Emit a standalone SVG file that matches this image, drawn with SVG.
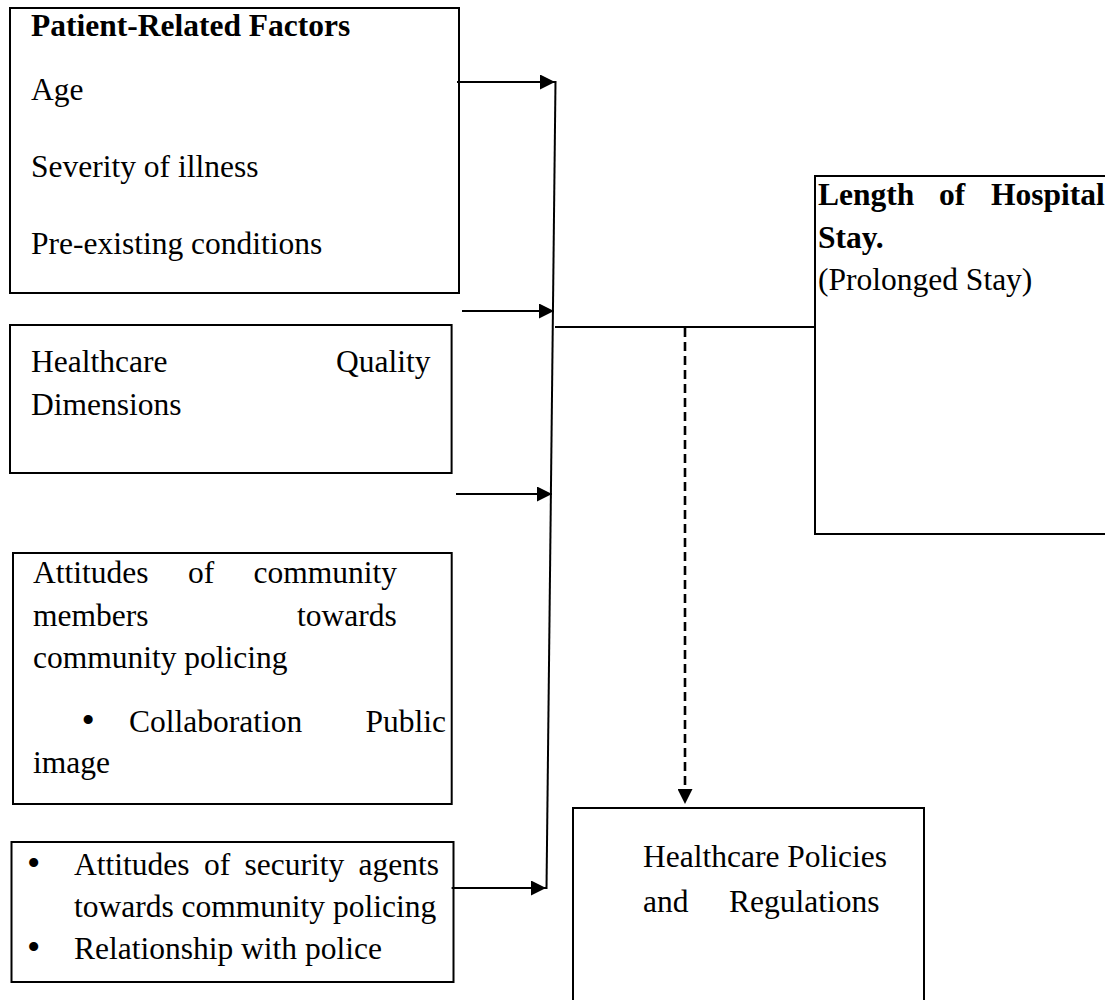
<svg xmlns="http://www.w3.org/2000/svg" width="1105" height="1000" viewBox="0 0 1105 1000">
<style>
.box{fill:#fff;stroke:#000;stroke-width:2}
.t{font-family:"Liberation Serif","Times New Roman",serif;font-size:31.5px;fill:#000}
.b{font-weight:bold}
.bul{font-size:38px}
.ln{stroke:#000;stroke-width:2;fill:none}
.dash{stroke:#000;stroke-width:2.6;fill:none;stroke-dasharray:9 5}
</style>
<defs>
<marker id="ah" markerUnits="userSpaceOnUse" markerWidth="15" markerHeight="15" refX="15" refY="7.5" orient="auto">
<path d="M0,0 L15,7.5 L0,15 z" fill="#000"/>
</marker>
</defs>
<rect width="1105" height="1000" fill="#fff"/>

<g id="patient">
<rect class="box" x="10" y="8" width="449" height="285"/>
<text class="t b" x="31" y="36">Patient-Related Factors</text>
<text class="t" x="31" y="100">Age</text>
<text class="t" x="31" y="177">Severity of illness</text>
<text class="t" x="31" y="254">Pre-existing conditions</text>
</g>

<g id="quality">
<rect class="box" x="10" y="325" width="441.6" height="148"/>
<text class="t" y="372"><tspan x="31">Healthcare</tspan><tspan x="336">Quality</tspan></text>
<text class="t" x="31" y="415">Dimensions</text>
</g>

<g id="community">
<rect class="box" x="13" y="553" width="438.7" height="251"/>
<text class="t" y="583"><tspan x="33">Attitudes</tspan><tspan x="188">of</tspan><tspan x="253.5">community</tspan></text>
<text class="t" y="626"><tspan x="33">members</tspan><tspan x="297">towards</tspan></text>
<text class="t" x="33" y="668">community policing</text>
<text class="t" y="732"><tspan class="bul" x="81.5" dy="1">•</tspan><tspan x="129" dy="-1">Collaboration</tspan><tspan x="365.5">Public</tspan></text>
<text class="t" x="33" y="773">image</text>
</g>

<g id="security">
<rect class="box" x="11.5" y="842" width="442" height="140"/>
<text class="t" y="875"><tspan class="bul" x="27" dy="1">•</tspan><tspan x="74" dy="-1">Attitudes</tspan><tspan x="204">of</tspan><tspan x="244.5">security</tspan><tspan x="358.5">agents</tspan></text>
<text class="t" x="74" y="917">towards community policing</text>
<text class="t" y="959"><tspan class="bul" x="27" dy="1">•</tspan><tspan x="74" dy="-1">Relationship with police</tspan></text>
</g>

<g id="length">
<rect class="box" x="815" y="176" width="300" height="358"/>
<text class="t b" y="205"><tspan x="818">Length</tspan><tspan x="939">of</tspan><tspan x="991">Hospital</tspan></text>
<text class="t b" x="818" y="248">Stay.</text>
<text class="t" x="818" y="290">(Prolonged Stay)</text>
</g>

<g id="policies">
<rect class="box" x="573" y="808" width="351" height="210"/>
<text class="t" x="643" y="867">Healthcare Policies</text>
<text class="t" y="912"><tspan x="643">and</tspan><tspan x="729">Regulations</tspan></text>
</g>

<g id="connectors">
<line class="ln" x1="457" y1="82" x2="555" y2="82" marker-end="url(#ah)"/>
<line class="ln" x1="462" y1="311" x2="554" y2="311" marker-end="url(#ah)"/>
<line class="ln" x1="456" y1="494" x2="552" y2="494" marker-end="url(#ah)"/>
<line class="ln" x1="451.6" y1="888" x2="546" y2="888" marker-end="url(#ah)"/>
<line class="ln" x1="555.5" y1="81" x2="546.5" y2="889"/>
<line class="ln" x1="555" y1="327" x2="815" y2="327"/>
<line class="dash" x1="685" y1="328" x2="685" y2="804" marker-end="url(#ah)"/>
</g>
</svg>
